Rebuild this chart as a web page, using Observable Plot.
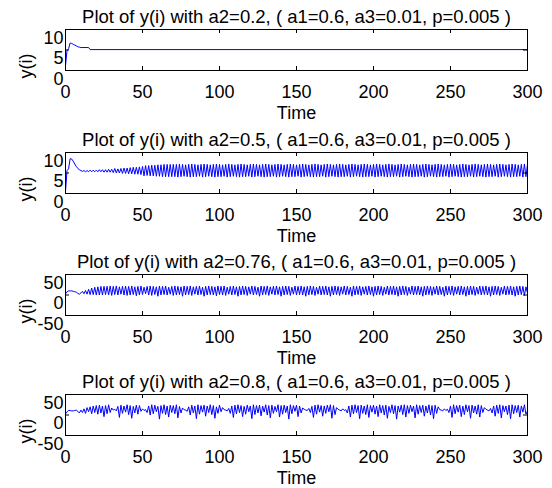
<!DOCTYPE html>
<html><head><meta charset="utf-8">
<script src="https://cdn.jsdelivr.net/npm/d3@7"></script>
<script src="https://cdn.jsdelivr.net/npm/@observablehq/plot@0.6"></script>
<style>
body{margin:0;background:#fff;}
#chart{position:relative;width:552px;height:488px;overflow:hidden;background:#fff;}
#chart svg{position:absolute;left:0;overflow:visible;}
</style></head><body><div id="chart"></div>
<script>
const xTicks = [0, 50, 100, 150, 200, 250, 300];
const xLabel = "Time";
const yLabel = "y(i)";
const titles = [
  "Plot of y(i) with a2=0.2, ( a1=0.6, a3=0.01, p=0.005 )",
  "Plot of y(i) with a2=0.5, ( a1=0.6, a3=0.01, p=0.005 )",
  "Plot of y(i) with a2=0.76, ( a1=0.6, a3=0.01, p=0.005 )",
  "Plot of y(i) with a2=0.8, ( a1=0.6, a3=0.01, p=0.005 )"
];
const yTicksSmall = [0, 5, 10];
const yTicksLarge = [-50, 0, 50];

// a2 = 0.2 (sparse: settles to a constant)
const timeA = [0, 1, 2, 3, 4, 5, 6, 7, 8, 9, 10, 15, 16, 300];
const yA = [1.2, 4.9, 5.3, 6.7, 6.6, 6.4, 6.2, 6.0, 5.8, 5.7, 5.6, 5.6, 5.1, 5.1];

// a2 = 0.5, i = 0..300
const yB = [
0.5,5.6,6.0,8.5,8.4,7.9,7.2,6.6,6.1,5.8,5.6,
5.4,5.6,5.3,5.6,5.3,5.7,5.3,5.7,5.3,5.7,
5.3,5.8,5.3,5.8,5.2,5.8,5.2,5.9,5.2,5.9,
5.1,6.1,5.0,6.0,5.0,6.1,4.9,6.2,4.9,6.2,
4.8,6.3,4.8,6.4,4.7,6.4,4.7,6.5,4.6,6.6,
4.3,6.8,4.4,6.8,4.3,6.9,4.3,6.9,4.2,7.0,
4.2,7.0,4.1,7.1,4.1,7.1,4.1,7.1,4.1,7.1,
4.1,7.1,4.0,7.2,4.1,7.1,4.2,7.0,4.1,7.1,
4.0,7.2,4.1,7.1,4.1,7.0,4.2,7.1,4.0,7.2,
4.1,7.1,4.2,7.0,4.1,7.1,4.0,7.2,4.1,7.1,
4.1,7.0,4.2,7.1,4.0,7.2,4.1,7.1,4.2,7.0,
4.1,7.1,4.0,7.2,4.1,7.1,4.1,7.0,4.2,7.1,
4.0,7.2,4.1,7.1,4.2,7.0,4.1,7.1,4.0,7.2,
4.1,7.1,4.1,7.0,4.2,7.1,4.0,7.2,4.1,7.1,
4.2,7.0,4.1,7.1,4.0,7.2,4.1,7.1,4.1,7.0,
4.2,7.1,4.0,7.2,4.1,7.1,4.2,7.0,4.1,7.1,
4.0,7.2,4.1,7.1,4.1,7.0,4.2,7.1,4.0,7.2,
4.1,7.1,4.2,7.0,4.1,7.1,4.0,7.2,4.1,7.1,
4.1,7.0,4.2,7.1,4.0,7.2,4.1,7.1,4.2,7.0,
4.1,7.1,4.0,7.2,4.1,7.1,4.1,7.0,4.2,7.1,
4.0,7.2,4.1,7.1,4.2,7.0,4.1,7.1,4.0,7.2,
4.1,7.1,4.1,7.0,4.2,7.1,4.0,7.2,4.1,7.1,
4.2,7.0,4.1,7.1,4.0,7.2,4.1,7.1,4.1,7.0,
4.2,7.1,4.0,7.2,4.1,7.1,4.2,7.0,4.1,7.1,
4.0,7.2,4.1,7.1,4.1,7.0,4.2,7.1,4.0,7.2,
4.1,7.1,4.2,7.0,4.1,7.1,4.0,7.2,4.1,7.1,
4.1,7.0,4.2,7.1,4.0,7.2,4.1,7.1,4.2,7.0,
4.1,7.1,4.0,7.2,4.1,7.1,4.1,7.0,4.2,7.1,
4.0,7.2,4.1,7.1,4.2,7.0,4.1,7.1,4.0,7.2,
4.1,7.1,4.1,7.0,4.2,7.1,4.0,7.2,4.1,7.1
];

// a2 = 0.76, i = 0..300
const yC = [
3,8,10,10,10,9,8,7,4,2,5,
9,3,11,2,14,1,17,1,19,0,
20,0,21,0,21,1,21,0,22,-1,
21,1,22,0,20,2,21,0,22,-1,
21,0,22,1,20,-2,21,0,22,1,
19,3,21,0,22,-1,21,1,20,-3,
22,0,21,1,22,0,19,2,21,-1,
22,0,21,1,20,-3,22,0,21,1,
22,-1,20,2,21,0,22,1,19,-3,
21,0,22,1,21,0,20,-2,22,1,
21,0,22,-1,19,2,21,0,22,1,
20,-3,21,0,22,1,21,-1,20,2,
22,0,21,1,19,-3,22,0,21,1,
22,-1,20,2,21,0,22,1,20,-3,
21,0,22,1,21,-1,19,2,22,0,
21,1,22,0,20,-3,21,0,22,1,
21,-1,19,2,22,0,21,1,22,0,
20,-3,21,0,22,1,21,-1,20,2,
22,0,21,1,19,-3,22,0,21,1,
22,-1,20,2,21,0,22,1,20,-3,
21,0,22,1,21,-1,19,2,22,0,
21,1,22,0,20,-3,21,0,22,1,
21,-1,19,2,22,0,21,1,22,0,
20,-3,21,0,22,1,21,-1,20,2,
22,0,21,1,19,-3,22,0,21,1,
22,-1,20,2,21,0,22,1,20,-3,
21,0,22,1,21,-1,19,2,22,0,
21,1,22,0,20,-3,21,0,22,1,
21,-1,19,2,22,0,21,1,22,0,
20,-3,21,0,22,1,21,-1,20,5
];

// a2 = 0.8, i = 0..300
const yD = [
3,8,11,11,10,10,11,12,9,5,12,
6,15,4,18,8,20,3,22,6,23,
2,24,5,22,-4,23,3,25,6,17,
12,14,10,21,-6,24,4,22,7,25,
1,23,-8,21,5,24,2,23,9,15,
11,13,6,22,0,25,3,24,8,21,
-10,23,4,25,1,22,-5,24,6,23,
3,25,-7,21,5,17,13,12,9,20,
0,24,5,22,-9,25,2,23,7,24,
-3,22,6,25,1,23,-8,20,4,24,
8,18,13,12,10,16,4,22,-6,24,
3,25,6,23,-4,21,2,24,8,22,
-9,25,1,23,5,24,-2,22,7,25,
0,23,-7,24,4,21,8,25,-5,23,
2,24,6,22,-10,25,3,23,9,24,
-4,22,5,17,14,12,11,16,6,21,
-6,24,2,25,7,23,-3,22,4,24,
8,25,-8,23,1,18,14,12,10,15,
11,13,5,22,-5,24,3,25,6,23,
-9,24,4,22,1,25,-6,23,7,24,
2,22,-4,25,5,23,0,24,-8,21,
6,25,3,23,-10,22,7,24,1,25,
-5,23,4,24,8,22,-7,25,2,23,
6,24,-3,22,5,25,0,23,-9,24,
4,20,13,12,10,15,11,14,6,22,
-6,25,3,23,7,24,-4,22,1,25,
8,23,-8,24,5,22,2,25,-5,23,
6,18,14,12,10,16,5,22,-3,24,
4,25,-7,23,8,22,1,24,-9,25,
3,23,6,24,-5,22,7,25,2,10
];

const panels = [
  {title: titles[0], t: timeA, y: yA, domain: [0, 10], ticks: yTicksSmall, top: 0},
  {title: titles[1], t: null, y: yB, domain: [0, 10], ticks: yTicksSmall, top: 123},
  {title: titles[2], t: null, y: yC, domain: [-50, 50], ticks: yTicksLarge, top: 245},
  {title: titles[3], t: null, y: yD, domain: [-50, 50], ticks: yTicksLarge, top: 365}
];

const W = 552, H = 122, mL = 65, mR = 25, mT = 29, mB = 52;
const fw = W - mL - mR, fh = H - mT - mB;
const fs = 18;
const chart = document.getElementById("chart");

for (const p of panels) {
  const data = p.y.map((v, i) => ({t: p.t ? p.t[i] : i, v}));
  const svg = Plot.plot({
    width: W, height: H,
    marginLeft: mL, marginRight: mR, marginTop: mT, marginBottom: mB,
    style: {fontFamily: "'Liberation Sans', Arial, sans-serif", fontSize: fs + "px", color: "black", background: "transparent", overflow: "visible"},
    x: {domain: [0, 300], axis: null},
    y: {domain: p.domain, axis: null},
    marks: [
      Plot.line(data, {x: "t", y: "v", stroke: "#0000ff", strokeWidth: 1}),
      Plot.tickX(xTicks, {x: d => d, insetTop: fh - 4, stroke: "black"}),
      Plot.tickX(xTicks, {x: d => d, insetBottom: fh - 4, stroke: "black"}),
      Plot.tickY(p.ticks, {y: d => d, insetRight: fw - 4, stroke: "black"}),
      Plot.tickY(p.ticks, {y: d => d, insetLeft: fw - 4, stroke: "black"}),
      Plot.frame({stroke: "black", strokeWidth: 1}),
      Plot.text(xTicks, {x: d => d, frameAnchor: "bottom", lineAnchor: "middle", dy: 22, text: d => String(d), fontSize: fs, fill: "black"}),
      Plot.text(p.ticks, {y: d => d, frameAnchor: "left", textAnchor: "end", lineAnchor: "middle", dx: -2, dy: 8.5, text: d => String(d), fontSize: fs, fill: "black"}),
      Plot.text([yLabel], {frameAnchor: "left", textAnchor: "middle", lineAnchor: "middle", dx: -39, dy: 16, rotate: -90, text: d => d, fontSize: fs, fill: "black"}),
      Plot.text([xLabel], {frameAnchor: "bottom", lineAnchor: "middle", dy: 42.5, text: d => d, fontSize: fs, fill: "black"}),
      Plot.text([p.title], {frameAnchor: "top", lineAnchor: "middle", dy: -12, text: d => d, fontSize: 18.5, fill: "black"})
    ]
  });
  svg.style.position = "absolute";
  svg.style.top = p.top + "px";
  svg.style.left = "0px";
  chart.appendChild(svg);
}
</script>
</body></html>
